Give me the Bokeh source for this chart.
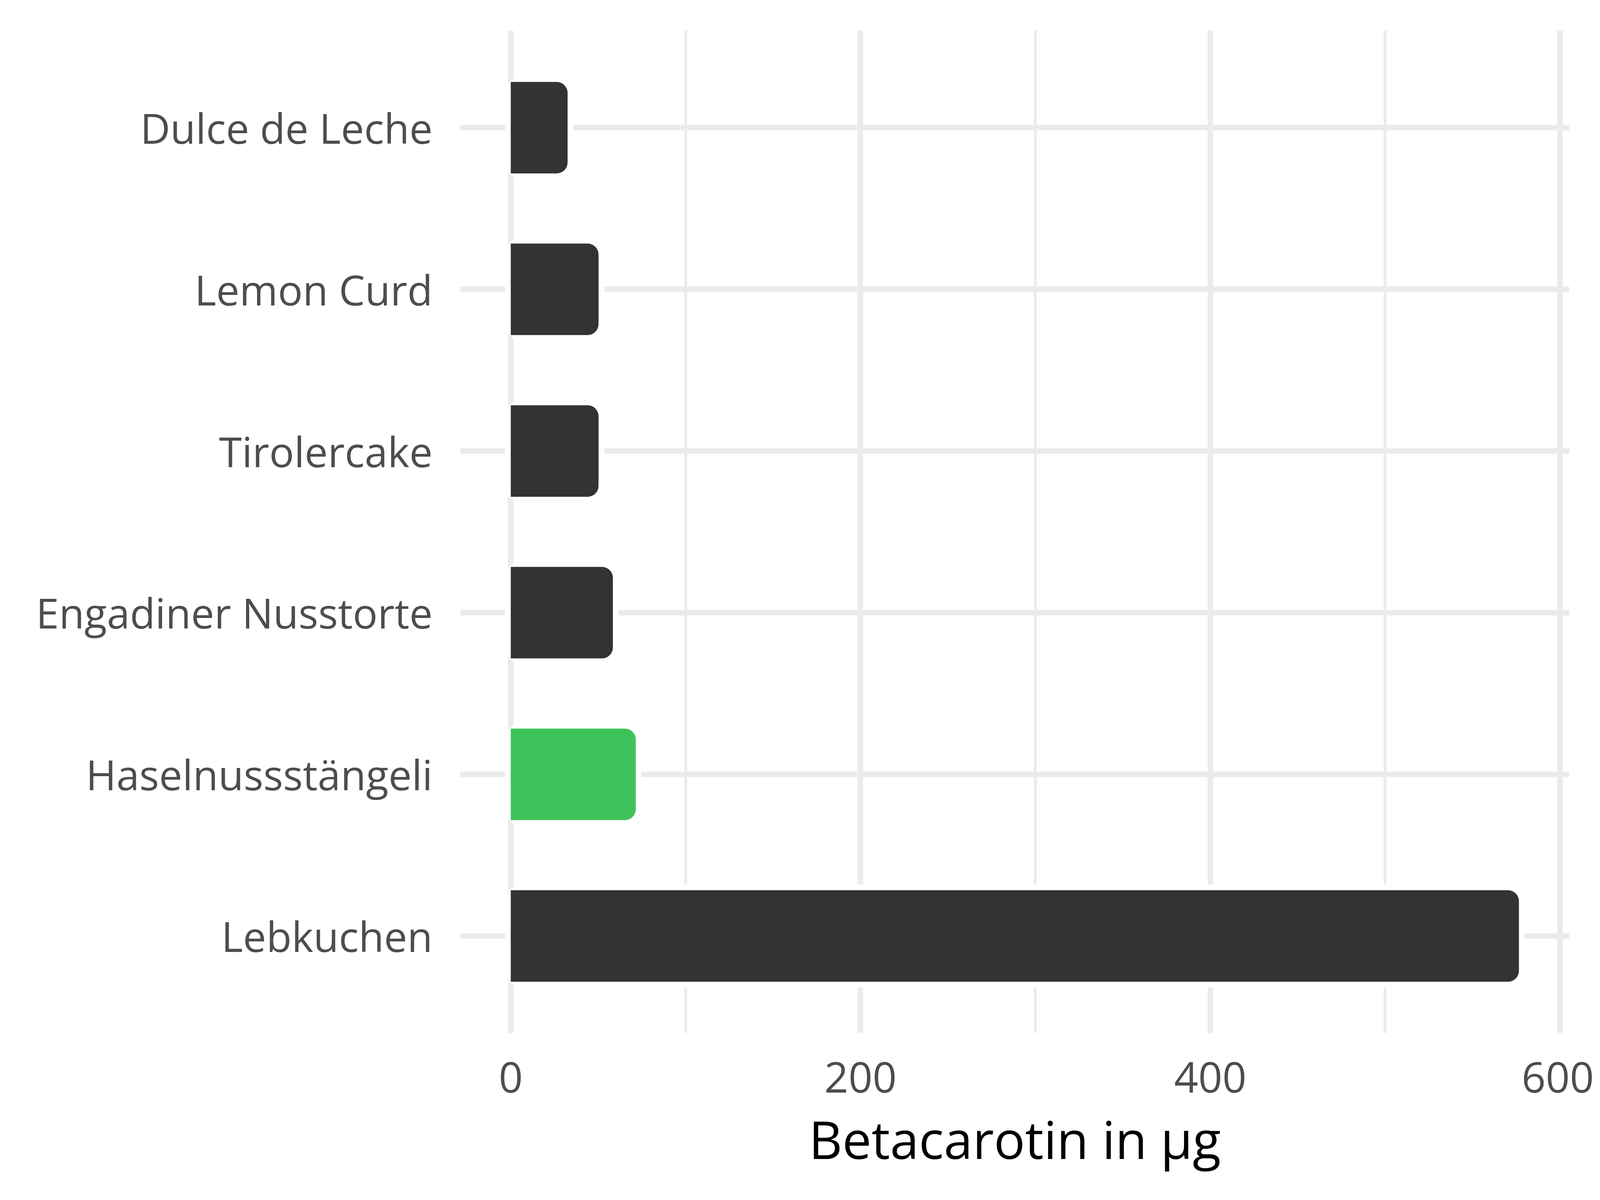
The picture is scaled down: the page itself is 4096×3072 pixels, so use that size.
from bokeh.plotting import figure
from bokeh.models import FactorRange, Range1d, FixedTicker, ColumnDataSource
from bokeh.embed import file_html
from bokeh.resources import INLINE

# data (top to bottom as shown)
categories = ["Dulce de Leche", "Lemon Curd", "Tirolercake",
              "Engadiner Nusstorte", "Haselnussstängeli", "Lebkuchen"]
values = [32.5, 50.2, 50.2, 58.4, 71.5, 576.5]
bar_colors = ["#333333", "#333333", "#333333", "#333333", "#3EC35A", "#333333"]
x_major_ticks = [0, 200, 400, 600]
x_minor_ticks = [100, 300, 500]
x_label = "Betacarotin in µg"

src = ColumnDataSource(dict(cat=categories, val=values, color=bar_colors))

xmax = max(values)
p = figure(
    width=4080, height=3056,
    y_range=FactorRange(factors=list(reversed(categories)),
                        range_padding=0.1, range_padding_units="absolute"),
    x_range=Range1d(-0.05 * xmax, xmax * 1.05),
    output_backend="svg", toolbar_location=None,
    min_border_left=1178, min_border_right=63,
    min_border_top=78, min_border_bottom=412,
)
p.outline_line_color = None
p.background_fill_color = "white"
p.border_fill_color = "white"

GRID = "#EBEBEB"
p.xaxis.ticker = FixedTicker(ticks=x_major_ticks, minor_ticks=x_minor_ticks)
p.xgrid.grid_line_color = GRID
p.xgrid.grid_line_width = 14
p.xgrid.minor_grid_line_color = GRID
p.xgrid.minor_grid_line_width = 7
p.ygrid.grid_line_color = GRID
p.ygrid.grid_line_width = 14

# white halo around bars
p.hbar(y="cat", left=0, right="val", height=0.566, source=src,
       fill_color="white", line_color="white", line_width=29,
       border_radius=28)
# bars
p.hbar(y="cat", left=0, right="val", height=0.566, source=src,
       fill_color="color", line_color=None,
       border_radius=(0, 28, 28, 0))

for ax in (p.xaxis, p.yaxis):
    ax.axis_line_color = None
    ax.major_tick_line_color = None
    ax.minor_tick_line_color = None
    ax.major_label_text_font = "Open Sans"
    ax.major_label_text_font_size = "106px"
    ax.major_label_text_color = "#4D4D4D"

p.xaxis.major_label_text_font_size = "108px"
p.yaxis.major_label_standoff = 65
p.xaxis.major_label_standoff = 68
p.xaxis.axis_label = x_label
p.xaxis.axis_label_text_font = "Open Sans"
p.xaxis.axis_label_text_font_size = "133px"
p.xaxis.axis_label_text_font_style = "normal"
p.xaxis.axis_label_text_color = "#000000"
p.xaxis.axis_label_standoff = 25

open("out.html", "w").write(file_html(p, INLINE))
